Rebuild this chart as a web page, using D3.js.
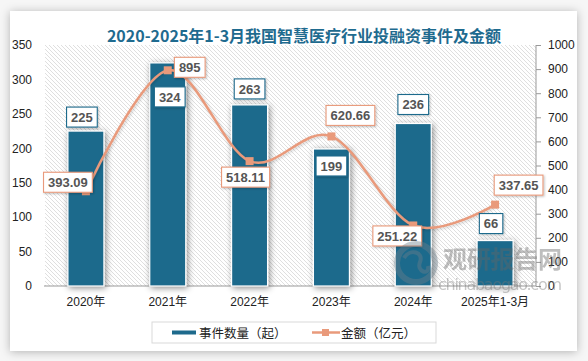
<!DOCTYPE html>
<html><head><meta charset="utf-8">
<script src="https://cdn.jsdelivr.net/npm/d3@7/dist/d3.min.js"></script>
<style>
html,body{margin:0;padding:0;background:#f6f6f6;}
svg{display:block;}
</style></head>
<body>
<svg id="c" width="588" height="361"></svg>
<script>
// ---- data ----
const categories = ["2020年","2021年","2022年","2023年","2024年","2025年1-3月"];
const eventCounts = [225, 324, 263, 199, 236, 66];
const amounts = [393.09, 895, 518.11, 620.66, 251.22, 337.65];
const amountLabels = ["393.09","895","518.11","620.66","251.22","337.65"];
const leftTicks = [0,50,100,150,200,250,300,350];
const rightTicks = [0,100,200,300,400,500,600,700,800,900,1000];
const titleText = "2020-2025年1-3月我国智慧医疗行业投融资事件及金额";
const legendNames = ["事件数量（起）","金额（亿元）"];

// ---- label placement (layout only) ----
const barLabelOffset = [[-4,-14],[2,34],[0,-16],[0,17],[0,-19],[-4,-17]];
const lineLabelOffset = [[-18,-9],[22,-3],[-4,16],[19,-21],[-16,10.5],[23.5,-19.5]];

const BAR = "#1e6a8c", LINE = "#e99a7b", TXT = "#555";
const svg = d3.select("#c");
const defs = svg.append("defs");

// card shadow
const fs = defs.append("filter").attr("id","cardShadow").attr("x","-10%").attr("y","-10%").attr("width","120%").attr("height","120%");
fs.append("feDropShadow").attr("dx",0).attr("dy",1).attr("stdDeviation",5).attr("flood-color","#000").attr("flood-opacity",0.28);
const bs = defs.append("filter").attr("id","barShadow").attr("x","-50%").attr("y","-20%").attr("width","200%").attr("height","140%");
bs.append("feDropShadow").attr("dx",1.5).attr("dy",1.5).attr("stdDeviation",3).attr("flood-color","#000").attr("flood-opacity",0.45);
const ls = defs.append("filter").attr("id","lblShadow").attr("x","-30%").attr("y","-30%").attr("width","160%").attr("height","160%");
ls.append("feDropShadow").attr("dx",1).attr("dy",1).attr("stdDeviation",1.2).attr("flood-color","#000").attr("flood-opacity",0.25);
const lineGlow = defs.append("filter").attr("id","lineShadow").attr("x","-10%").attr("y","-10%").attr("width","120%").attr("height","120%");
lineGlow.append("feDropShadow").attr("dx",1).attr("dy",1).attr("stdDeviation",1.5).attr("flood-color","#000").attr("flood-opacity",0.2);

// hatch pattern
const pat = defs.append("pattern").attr("id","hatch").attr("patternUnits","userSpaceOnUse").attr("width",4).attr("height",4);
pat.append("rect").attr("width",4).attr("height",4).attr("fill","#fff");
pat.append("path").attr("d","M-1,-1 L5,5 M-1,3 L1,5 M3,-1 L5,1").attr("stroke","#d4d4d4").attr("stroke-width",0.75);

// card
svg.append("rect").attr("x",10).attr("y",11).attr("width",567).attr("height",340).attr("fill","#fff").attr("filter","url(#cardShadow)");

const L = 45, R = 536, T = 45, B = 286;
const x = d3.scaleBand().domain(categories).range([L,R]).paddingInner(0.56).paddingOuter(0.28);
const xc = d3.scaleBand().domain(categories).range([L,R]);
const yL = d3.scaleLinear().domain([0,350]).range([B,T]);
const yR = d3.scaleLinear().domain([0,1000]).range([B,T]);

// plot background
svg.append("rect").attr("x",L).attr("y",T).attr("width",R-L).attr("height",B-T).attr("fill","url(#hatch)");

// title
svg.append("text").attr("x",304).attr("y",42).attr("text-anchor","middle")
  .attr("font-family","'Noto Sans CJK SC',sans-serif").attr("font-weight","bold").attr("font-size",16)
  .attr("fill","#1f6b8f").text(titleText);

const axisFont = "'Liberation Sans','Noto Sans CJK SC',sans-serif";
// left axis
const gl = svg.append("g").attr("transform",`translate(${L},0)`)
  .call(d3.axisLeft(yL).tickValues(leftTicks).tickSize(0).tickPadding(13).tickFormat(d3.format("d")));
gl.select(".domain").remove();
gl.selectAll("text").attr("font-family",axisFont).attr("font-size",12).attr("fill","#222");

// right axis
const gr = svg.append("g").attr("transform",`translate(${R},0)`)
  .call(d3.axisRight(yR).tickValues(rightTicks).tickSize(5).tickPadding(7).tickFormat(d3.format("d")));
gr.select(".domain").attr("stroke","#999").attr("d",`M0,${T}V${B}`);
gr.selectAll("line").attr("stroke","#999");
gr.selectAll("text").attr("font-family",axisFont).attr("font-size",12).attr("fill","#222");

// x axis
const gx = svg.append("g").attr("transform",`translate(0,${B})`)
  .call(d3.axisBottom(xc).tickSize(0).tickPadding(11));
gx.select(".domain").attr("stroke","#999").attr("d",`M${L-1},0H${R}`);
gx.selectAll("text").attr("font-family",axisFont).attr("font-size",12).attr("fill","#222");

// bars
svg.append("g").selectAll("rect").data(eventCounts).join("rect")
  .attr("x",(d,i)=>x(categories[i])).attr("width",x.bandwidth())
  .attr("y",d=>yL(d)).attr("height",d=>B-yL(d))
  .attr("fill",BAR).attr("stroke","#fff").attr("stroke-width",1.2)
  .attr("filter","url(#barShadow)");

// line
const pts = amounts.map((v,i)=>[xc(categories[i])+xc.bandwidth()/2, yR(v)]);
svg.append("path").datum(pts)
  .attr("d",d3.line().curve(d3.curveCardinal.tension(0)))
  .attr("fill","none").attr("stroke",LINE).attr("stroke-width",2.5).attr("filter","url(#lineShadow)");
svg.append("g").selectAll("rect").data(pts).join("rect")
  .attr("x",d=>d[0]-4).attr("y",d=>d[1]-4).attr("width",8).attr("height",8).attr("fill",LINE);

const lblFont = "'Liberation Sans',Arial,sans-serif";
function labelBox(g, cx, cy, text, stroke){
  const grp = g.append("g");
  const rect = grp.append("rect").attr("fill","#fff").attr("stroke",stroke).attr("stroke-width",1.1).attr("filter","url(#lblShadow)");
  const t = grp.append("text").attr("x",cx).attr("y",cy+4.6).attr("text-anchor","middle")
    .attr("font-family",lblFont).attr("font-weight","bold").attr("font-size",13).attr("fill",TXT).text(text);
  const w = t.node().getComputedTextLength() + 9;
  rect.attr("x",cx-w/2).attr("y",cy-10).attr("width",w).attr("height",20);
}
const lg = svg.append("g");
eventCounts.forEach((v,i)=>{
  const cx = x(categories[i]) + x.bandwidth()/2 + barLabelOffset[i][0];
  const cy = yL(v) + barLabelOffset[i][1];
  labelBox(lg, cx, cy, String(v), BAR);
});
amounts.forEach((v,i)=>{
  labelBox(lg, pts[i][0]+lineLabelOffset[i][0], pts[i][1]+lineLabelOffset[i][1], amountLabels[i], LINE);
});

// watermark
const wm = svg.append("g").attr("opacity",0.42);
wm.append("circle").attr("cx",416).attr("cy",263).attr("r",19).attr("fill","none").attr("stroke","#6d7f8a").attr("stroke-width",6);
wm.append("path").attr("d","M404,258 C410,248 424,252 420,262 C416,272 430,276 428,266").attr("fill","none").attr("stroke","#6d7f8a").attr("stroke-width",4);
wm.append("text").attr("x",443).attr("y",268).attr("font-family","'Noto Sans CJK SC',sans-serif").attr("font-weight","bold")
  .attr("font-size",24).attr("fill","#666").attr("textLength",119).text("观研报告网");
wm.append("text").attr("x",438).attr("y",290).attr("font-family","'DejaVu Sans',sans-serif")
  .attr("font-size",16).attr("fill","#777").attr("textLength",124).text("chinabaogao.com");

// legend
const leg = svg.append("g");
leg.append("rect").attr("x",152).attr("y",322).attr("width",284).attr("height",21).attr("fill","#fff").attr("stroke","#d9d9d9");
leg.append("rect").attr("x",172).attr("y",330.5).attr("width",24).attr("height",4).attr("fill",BAR);
leg.append("text").attr("x",199).attr("y",337.5).attr("font-family","'Noto Sans CJK SC',sans-serif").attr("font-size",12.5).attr("fill","#222").text(legendNames[0]);
leg.append("line").attr("x1",312).attr("x2",340).attr("y1",332.5).attr("y2",332.5).attr("stroke",LINE).attr("stroke-width",2.5);
leg.append("rect").attr("x",322).attr("y",329).attr("width",7).attr("height",7).attr("fill",LINE);
leg.append("text").attr("x",341).attr("y",337.5).attr("font-family","'Noto Sans CJK SC',sans-serif").attr("font-size",12.5).attr("fill","#222").text(legendNames[1]);
</script>
</body></html>
